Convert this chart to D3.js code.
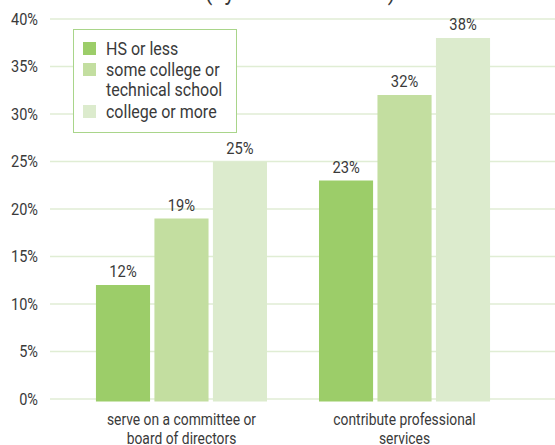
<!DOCTYPE html>
<html>
<head>
<meta charset="utf-8">
<script src="https://cdn.jsdelivr.net/npm/d3@7"></script>
<style>
  html, body { margin: 0; padding: 0; background: #ffffff; }
  svg { display: block; }
  text { font-family: "Roboto", sans-serif; fill: #3a3a3a; }
</style>
</head>
<body>
<svg id="chart" width="555" height="445"></svg>
<script>
// Activities by education level
const categories = [["serve on a committee or", "board of directors"], ["contribute professional", "services"]];
const seriesNames = [["HS or less"], ["some college or", "technical school"], ["college or more"]];
const hsOrLess = [12, 23];
const someCollege = [19, 32];
const collegeOrMore = [25, 38];
const yTicks = [0, 5, 10, 15, 20, 25, 30, 35, 40];
const colors = ["#9ccd69", "#c3dea0", "#dcebcd"];

const series = [hsOrLess, someCollege, collegeOrMore];

const svg = d3.select("#chart");
const W = 555, H = 445;

// narrow text: Roboto squeezed horizontally
function ntext(parent, x, yPos, lines, size, sx, anchor, lineH) {
  const t = parent.append("text")
    .attr("transform", `translate(${x},${yPos}) scale(${sx},1)`)
    .attr("text-anchor", anchor)
    .style("font-size", size + "px");
  lines.forEach((line, i) => {
    t.append("tspan").attr("x", 0).attr("y", i * lineH).text(line);
  });
  return t;
}

const y = d3.scaleLinear().domain([0, 40]).range([399, 19]);

const x0 = d3.scaleBand()
  .domain(categories.map((d, i) => i))
  .range([50, 536])
  .paddingInner(0.233)
  .paddingOuter(0.206);

const x1 = d3.scaleBand()
  .domain(series.map((d, i) => i))
  .range([0, x0.bandwidth()])
  .paddingInner(0.075);

// title (clipped at top)
ntext(svg, 300, 0, ["(by education level)"], 23, 0.96, "middle", 0);

// gridlines
svg.append("g").selectAll("line").data(yTicks).join("line")
  .attr("x1", 50).attr("x2", W)
  .attr("y1", d => y(d)).attr("y2", d => y(d))
  .attr("stroke", "#e0edd4").attr("stroke-width", 1.6);

// y axis labels
const yAxis = d3.axisLeft(y).tickValues(yTicks).tickFormat(d => d + "%").tickSize(0).tickPadding(0);
const ga = svg.append("g").attr("transform", "translate(38,0)").call(yAxis);
ga.select(".domain").remove();
ga.selectAll("text")
  .style("font-size", "16.5px")
  .style("font-family", "Roboto, sans-serif")
  .attr("fill", "#3a3a3a")
  .attr("transform", "scale(0.88,1)");

// bars
const groups = svg.append("g").selectAll("g").data(categories).join("g")
  .attr("transform", (d, i) => `translate(${x0(i)},0)`);

groups.each(function(cat, ci) {
  const g = d3.select(this);
  series.forEach((s, si) => {
    const v = s[ci];
    g.append("rect")
      .attr("x", x1(si))
      .attr("y", y(v))
      .attr("width", x1.bandwidth())
      .attr("height", y(0) - y(v) + 2.5)
      .attr("fill", colors[si]);
    ntext(g, x1(si) + x1.bandwidth() / 2, y(v) - 8, [v + "%"], 16, 0.92, "middle", 0);
  });
  ntext(g, x0.bandwidth() / 2, 425, cat, 16.5, 0.84, "middle", 19);
});

// legend
const lg = svg.append("g");
lg.append("rect")
  .attr("x", 73.5).attr("y", 29.5).attr("width", 163).attr("height", 103)
  .attr("fill", "#ffffff").attr("stroke", "#a9d58a").attr("stroke-width", 1);

const swatchY = [42, 63, 105];
seriesNames.forEach((lines, i) => {
  lg.append("rect").attr("x", 83).attr("y", swatchY[i]).attr("width", 13).attr("height", 13).attr("fill", colors[i]);
  ntext(lg, 106, swatchY[i] + 12.5, lines, 18, 0.89, "start", 21);
});
</script>
</body>
</html>
